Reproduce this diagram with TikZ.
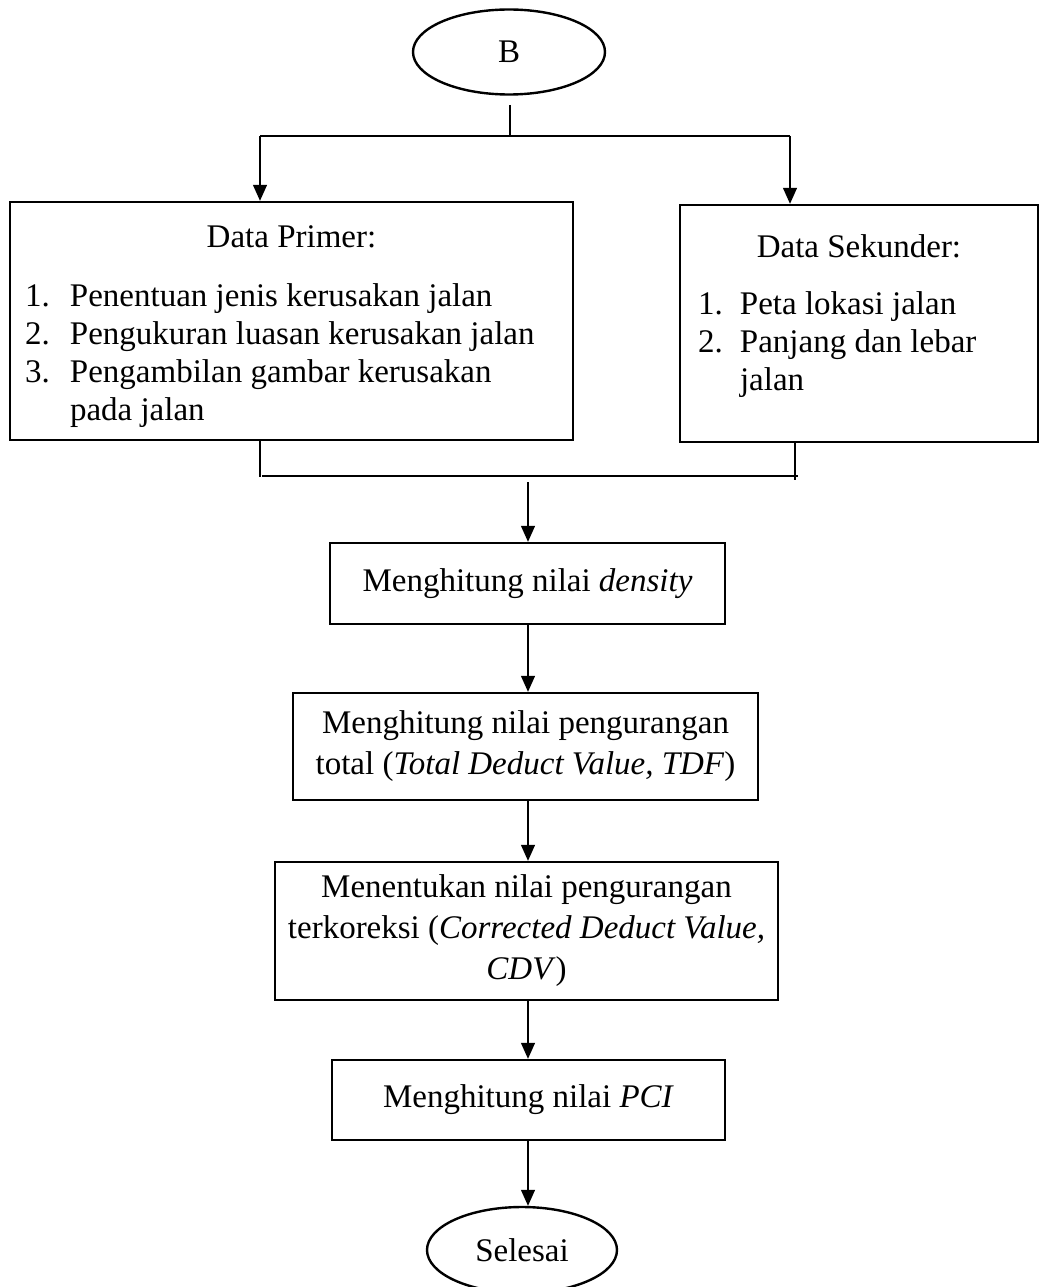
\documentclass[tikz,border=0pt]{standalone}
\usepackage{fontspec}
\setmainfont{Liberation Serif}
\usetikzlibrary{arrows.meta,shapes.geometric}
\newcommand{\fsz}{\fontsize{33}{38}\selectfont}
\newcommand{\fszb}{\fontsize{33}{41}\selectfont}
\newcommand{\itmA}[2]{\makebox[45pt][l]{#1}#2\par}
\newcommand{\itmB}[2]{\makebox[42pt][l]{#1}#2\par}
\begin{document}
\begin{tikzpicture}[x=1pt,y=-1pt,
  box/.style={draw, line width=2.4pt, inner sep=0pt, align=center, font=\fszb},
  oval/.style={draw, ellipse, line width=2.4pt, inner sep=0pt, font=\fsz},
  conn/.style={line width=1.3pt},
  arr/.style={line width=1.3pt, -{Triangle[length=16pt,width=14pt]}}]
\useasboundingbox (0,0) rectangle (1040,1287);

\node[oval, minimum width=192pt, minimum height=85pt] (B) at (509,52) {B};

\node[box, minimum width=563pt, minimum height=238pt] (prim) at (291.5,321) {%
\parbox{533pt}{\fsz\vspace*{12pt}{\centering Data Primer:\par}\vspace{21pt}\raggedright
\itmA{1.}{Penentuan jenis kerusakan jalan}
\itmA{2.}{Pengukuran luasan kerusakan jalan}
\itmA{3.}{Pengambilan gambar kerusakan}
\hspace*{45pt}pada jalan\par}};

\node[box, minimum width=358pt, minimum height=237pt] (sek) at (859,323.5) {%
\parbox{322pt}{\fsz{\centering Data Sekunder:\par}\vspace{19pt}\raggedright
\itmB{1.}{Peta lokasi jalan}
\itmB{2.}{Panjang dan lebar}
\hspace*{42pt}jalan\par\vspace*{15pt}}};

\node[box, minimum width=395pt, minimum height=81pt] (dens) at (527.5,583.5) {Menghitung nilai \textit{density}};
\node[box, minimum width=465pt, minimum height=107pt] (tdv) at (525.5,746.5) {Menghitung nilai pengurangan\\total (\textit{Total Deduct Value, TDF})};
\node[box, minimum width=503pt, minimum height=138pt] (cdv) at (526.5,931) {Menentukan nilai pengurangan\\terkoreksi (\textit{Corrected Deduct Value,}\\\textit{CDV})};
\node[box, minimum width=393pt, minimum height=80pt] (pci) at (528.5,1100) {Menghitung nilai \textit{PCI}};
\node[oval, minimum width=190pt, minimum height=86pt] (end) at (522,1250) {Selesai};

% top split
\coordinate (bs) at (510,105);
\coordinate (bj) at (510,136);
\coordinate (bl) at (260,136);
\coordinate (br) at (790,136);
\draw[conn] (bs) -- (bj);
\draw[conn] (bl) -- (br);
\draw[arr] (bl) -- (bl |- prim.north);
\draw[arr] (br) -- (br |- sek.north);

% bottom join
\coordinate (pl) at (260,477);
\coordinate (sr) at (795,480);
\coordinate (jl) at (262,476);
\coordinate (jr) at (798,476);
\coordinate (jd) at (528,482);
\draw[conn] (pl |- prim.south) -- (pl);
\draw[conn] (sr |- sek.south) -- (sr);
\draw[conn] (jl) -- (jr);
\draw[arr] (jd) -- (jd |- dens.north);

\draw[arr] (dens.south -| jd) -- (jd |- tdv.north);
\draw[arr] (tdv.south -| jd) -- (jd |- cdv.north);
\draw[arr] (cdv.south -| jd) -- (jd |- pci.north);
\draw[arr] (pci.south -| jd) -- (jd |- end.north);
\end{tikzpicture}
\end{document}
